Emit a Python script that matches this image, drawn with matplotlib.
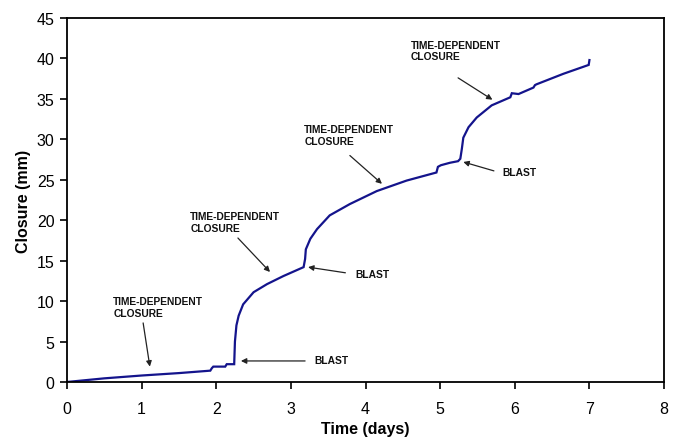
import matplotlib
matplotlib.use("Agg")
import matplotlib.pyplot as plt

plt.rcParams['font.family'] = ['Liberation Sans', 'DejaVu Sans']

# closure curve (days, mm)
time_days = [0.0, 0.5, 1.0, 1.5, 1.92, 1.94, 1.96, 2.12, 2.14, 2.24, 2.25, 2.27,
             2.30, 2.36, 2.50, 2.68, 2.90, 3.17, 3.19, 3.20, 3.26, 3.35, 3.52,
             3.79, 4.15, 4.55, 4.95, 4.97, 5.01, 5.13, 5.24, 5.27, 5.29, 5.31,
             5.38, 5.49, 5.69, 5.94, 5.96, 6.05, 6.25, 6.27, 6.29, 6.65, 6.99, 7.0]
closure_mm = [0.0, 0.45, 0.8, 1.1, 1.4, 1.7, 1.9, 1.9, 2.2, 2.2, 5.0, 7.0,
              8.2, 9.6, 11.1, 12.1, 13.1, 14.2, 15.2, 16.4, 17.7, 18.9, 20.6,
              22.0, 23.6, 24.9, 25.9, 26.6, 26.8, 27.1, 27.3, 27.6, 28.8, 30.2,
              31.5, 32.7, 34.2, 35.2, 35.7, 35.6, 36.4, 36.7, 36.8, 38.1, 39.2, 39.8]

# annotation text, text anchor (day, mm), arrow tip (day, mm), arrow tail
notes = ["TIME-DEPENDENT\nCLOSURE", "TIME-DEPENDENT\nCLOSURE",
         "TIME-DEPENDENT\nCLOSURE", "TIME-DEPENDENT\nCLOSURE",
         "BLAST", "BLAST", "BLAST"]
note_xy = [(0.62, 10.6), (1.65, 21.1), (3.18, 31.9), (4.61, 42.3),
           (3.31, 2.7), (3.86, 13.3), (5.83, 26.0)]
tip_xy = [(1.11, 1.9), (2.72, 13.6), (4.22, 24.5), (5.70, 34.9),
          (2.33, 2.6), (3.23, 14.2), (5.31, 27.2)]
tail_xy = [(1.02, 7.3), (2.29, 17.8), (3.79, 28.0), (5.24, 37.6),
           (3.19, 2.6), (3.73, 13.5), (5.72, 26.1)]

fig = plt.figure(figsize=(6.79, 4.39), dpi=100)
ax = fig.add_axes([0.0987, 0.1276, 0.8793, 0.8291])

ax.plot(time_days, closure_mm, color='#14148c', lw=1.6, solid_joinstyle='miter')

for txt, xy, tip, tail in zip(notes, note_xy, tip_xy, tail_xy):
    va = 'top' if '\n' in txt else 'center'
    ax.text(xy[0], xy[1], txt, fontsize=7.4, fontweight='bold', ha='left', va=va,
            linespacing=1.2, color='#111111')
    ax.annotate('', xy=tip, xytext=tail,
                arrowprops=dict(arrowstyle='-|>', color='#222222', lw=0.9,
                                mutation_scale=8, shrinkA=0, shrinkB=0))

ax.set_xlim(0, 8)
ax.set_ylim(0, 45)
ax.set_xticks(range(0, 9))
ax.set_yticks(range(0, 46, 5))
ax.tick_params(direction='out', length=5, width=1.2, labelsize=11.5)
ax.tick_params(axis='x', pad=9)
ax.tick_params(axis='y', pad=4)
for s in ax.spines.values():
    s.set_linewidth(1.3)

ax.set_xlabel('Time (days)', fontsize=11.5, fontweight='bold', labelpad=3)
ax.set_ylabel('Closure (mm)', fontsize=11.5, fontweight='bold', labelpad=4)

fig.savefig('out.png', dpi=100)
